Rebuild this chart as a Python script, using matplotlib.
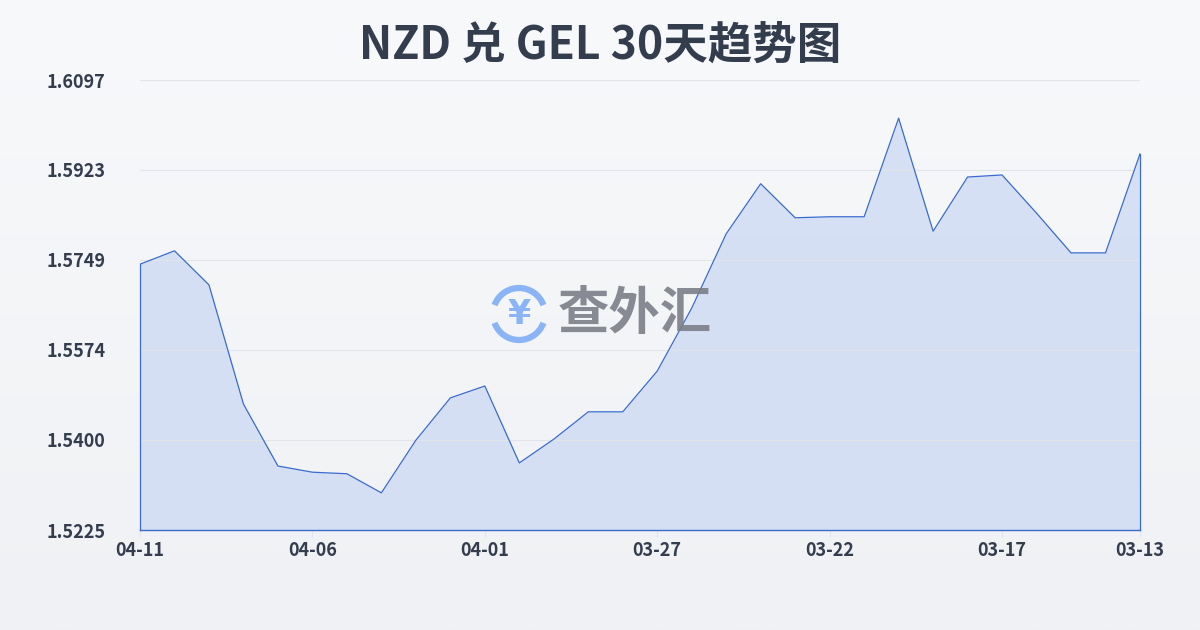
import matplotlib
matplotlib.use("Agg")
import matplotlib.pyplot as plt
import numpy as np
from matplotlib.patches import Arc
from matplotlib.colors import LinearSegmentedColormap

plt.rcParams["font.family"] = ["Noto Sans CJK SC", "DejaVu Sans"]

# data (newest first, as shown)
dates = ["04-11", "04-10", "04-09", "04-08", "04-07", "04-06", "04-05", "04-04",
         "04-03", "04-02", "04-01", "03-31", "03-30", "03-29", "03-28", "03-27",
         "03-26", "03-25", "03-24", "03-23", "03-22", "03-21", "03-20", "03-19",
         "03-18", "03-17", "03-16", "03-15", "03-14", "03-13"]
rates = [1.5740, 1.5766, 1.5700, 1.5469, 1.5349, 1.5337, 1.5334, 1.5297,
         1.5399, 1.5481, 1.5504, 1.5355, 1.5401, 1.5454, 1.5454, 1.5533,
         1.5655, 1.5799, 1.5896, 1.5830, 1.5832, 1.5832, 1.6023, 1.5804,
         1.5909, 1.5913, 1.5839, 1.5762, 1.5762, 1.5954]
yticks = [1.5225, 1.5400, 1.5574, 1.5749, 1.5923, 1.6097]
tick_idx = [0, 5, 10, 15, 20, 25, 29]

TXT = "#333d4d"
LINE = "#3a6bd0"

fig = plt.figure(figsize=(12, 6.3), dpi=100)
# soft vertical background gradient
bg = fig.add_axes([0, 0, 1, 1], zorder=-10)
grad = np.linspace(0, 1, 256).reshape(-1, 1)
cm = LinearSegmentedColormap.from_list("bg", ["#f8f9fb", "#eff1f4"])
bg.imshow(grad, aspect="auto", cmap=cm, extent=[0, 1, 0, 1])
bg.axis("off")

ax = fig.add_axes([140 / 1200, 100 / 630, 1000 / 1200, 450 / 630])
ax.patch.set_alpha(0)
x = np.arange(len(rates))
ax.fill_between(x, rates, yticks[0], color="#c9d7f3", alpha=0.7, lw=0)
ax.plot(x, rates, color=LINE, lw=0.9)
ax.plot([0, 0], [yticks[0], rates[0]], color=LINE, lw=0.9, clip_on=False)
ax.plot([x[-1], x[-1]], [yticks[0], rates[-1]], color=LINE, lw=0.9, clip_on=False)
ax.plot([0, x[-1]], [yticks[0], yticks[0]], color=LINE, lw=1.0, clip_on=False)

ax.set_xlim(0, len(rates) - 1)
ax.set_ylim(yticks[0], yticks[-1])
ax.set_yticks(yticks)
ax.set_yticklabels([f"{v:.4f}" for v in yticks])
ax.set_xticks(tick_idx)
ax.set_xticklabels([dates[i] for i in tick_idx])
ax.grid(axis="y", color="#e1e4e9", lw=0.8)
for s in ax.spines.values():
    s.set_visible(False)
ax.tick_params(axis="y", length=0, pad=25, labelsize=13, labelcolor=TXT)
ax.tick_params(axis="x", length=5, color="#e1e4e9", pad=3, labelsize=13, labelcolor=TXT)
for lab in ax.get_xticklabels() + ax.get_yticklabels():
    lab.set_fontweight("bold")

fig.text(0.5, 0.928, "NZD 兑 GEL 30天趋势图", ha="center", va="center",
         fontsize=32, fontweight="bold", color=TXT)

# watermark
wm = fig.add_axes([0, 0, 1, 1], zorder=5)
wm.set_xlim(0, 1200)
wm.set_ylim(630, 0)
wm.axis("off")
cx, cy, r = 519, 314, 26
wm.add_patch(Arc((cx, cy), 2 * r, 2 * r, theta1=200, theta2=340, color="#8ab4f5", lw=4.5))
wm.add_patch(Arc((cx, cy), 2 * r, 2 * r, theta1=20, theta2=160, color="#8ab4f5", lw=4.5))
wm.text(cx, cy + 1, "¥", ha="center", va="center", fontsize=24, fontweight="bold",
        color="#8ab4f5", family=["DejaVu Sans"])
wm.text(558, 314, "查外汇", ha="left", va="center", fontsize=37, fontweight="bold",
        color="#7b7f87", alpha=0.9)

fig.savefig("out.png", dpi=100)
